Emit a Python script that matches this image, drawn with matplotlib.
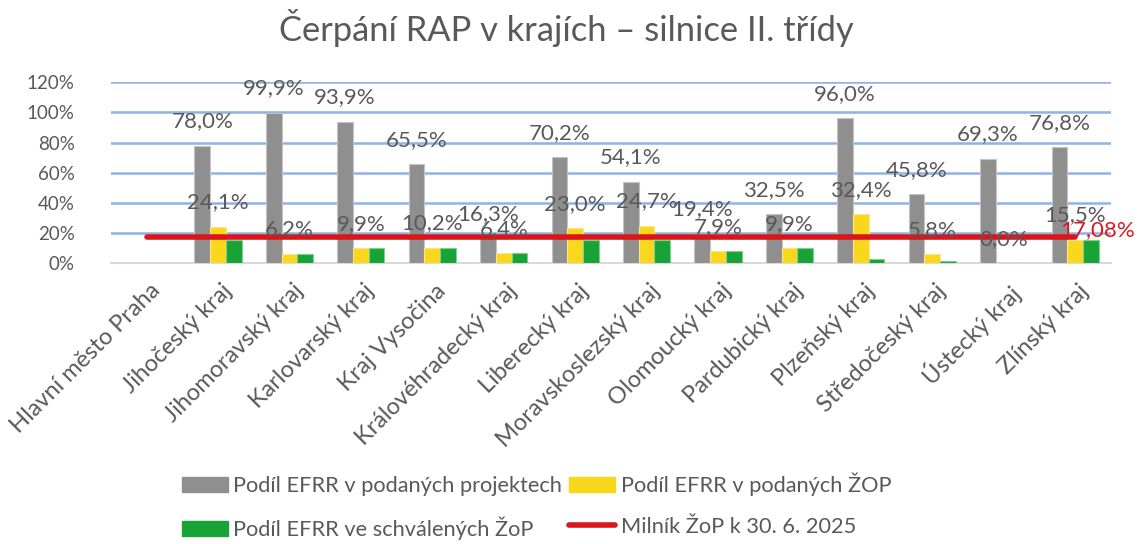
import numpy as np
import matplotlib
matplotlib.use("Agg")
import matplotlib.pyplot as plt
from matplotlib.patches import Patch
from matplotlib.lines import Line2D
import matplotlib.transforms as mtrans

plt.rcParams['font.family'] = ['Lato', 'DejaVu Sans']

categories = ["Hlavní město Praha", "Jihočeský kraj", "Jihomoravský kraj", "Karlovarský kraj",
              "Kraj Vysočina", "Královéhradecký kraj", "Liberecký kraj", "Moravskoslezský kraj",
              "Olomoucký kraj", "Pardubický kraj", "Plzeňský kraj", "Středočeský kraj",
              "Ústecký kraj", "Zlínský kraj"]
projekty = [np.nan, 78.0, 99.9, 93.9, 65.5, 16.3, 70.2, 54.1, 19.4, 32.5, 96.0, 45.8, 69.3, 76.8]
podane_zop = [np.nan, 24.1, 6.2, 9.9, 10.2, 6.4, 23.0, 24.7, 7.9, 9.9, 32.4, 5.8, 0.0, 15.5]
schvalene_zop = [np.nan, 15.4, 6.2, 9.9, 10.2, 6.4, 15.5, 15.6, 7.9, 9.9, 2.9, 1.4, 0.0, 15.5]
milnik = [17.08] * 14
yticks = [0, 20, 40, 60, 80, 100, 120]

series_names = ["Podíl EFRR v podaných projektech", "Podíl EFRR v podaných ŽOP",
                "Podíl EFRR ve schválených ŽoP", "Milník ŽoP k 30. 6. 2025"]
title = "Čerpání RAP v krajích – silnice II. třídy"

TXT = '#595959'
C_GRAY = '#8f8f8f'
C_YEL = '#f9d71c'
C_GRN = '#17a336'
C_RED = '#d9161c'

fig = plt.figure(figsize=(11.39, 5.44), dpi=100)
ax = fig.add_axes([0.0973, 0.5165, 0.878, 0.3322])

x = np.arange(len(categories))
w = 0.22
ax.bar(x - w, projekty, w, color=C_GRAY, edgecolor='#c4c4c4', linewidth=0.8, zorder=2)
ax.bar(x, podane_zop, w, color=C_YEL, edgecolor='#fbe58a', linewidth=0.8, zorder=2)
ax.bar(x + w, schvalene_zop, w, color=C_GRN, edgecolor='#7fcf93', linewidth=0.8, zorder=2)
ax.plot(x, milnik, color=C_RED, lw=4, solid_capstyle='round', zorder=3)

ax.set_xlim(-0.5, len(categories) - 0.5)
ax.set_ylim(0, 120)
ax.set_yticks(yticks)
ax.set_yticklabels([f"{t}%" for t in yticks])
ax.yaxis.grid(True, color='#8db4e2', lw=1.8, zorder=0)
ax.set_axisbelow(True)
for s in ['top', 'right', 'left']:
    ax.spines[s].set_visible(False)
ax.spines['bottom'].set_color('#d9d9d9')
ax.spines['bottom'].set_linewidth(1.5)
ax.spines['bottom'].set_zorder(1)
ax.tick_params(axis='y', length=0, pad=26, labelsize=13.5, labelcolor=TXT)
ax.set_xticks(x)
ax.set_xticklabels([])
ax.tick_params(axis='x', length=0)

# rotated category labels
off = mtrans.ScaledTranslation(3 / 100, -17 / 100, fig.dpi_scale_trans)
tr = ax.get_xaxis_transform() + off
for xi, c in zip(x, categories):
    ax.text(xi, 0, c, transform=tr, rotation=45, rotation_mode='anchor',
            ha='right', va='top', fontsize=17, color=TXT)

def fmt(v):
    return f"{v:.1f}%".replace('.', ',')

LBL = 16
for xi, v in zip(x, projekty):
    if not np.isnan(v):
        ax.annotate(fmt(v), (xi - w, v), xytext=(0, 17.5), textcoords='offset points',
                    ha='center', va='center', fontsize=LBL, color=TXT, zorder=5)
for xi, v in zip(x, podane_zop):
    if not np.isnan(v):
        ax.annotate(fmt(v), (xi, v), xytext=(0, 17.5), textcoords='offset points',
                    ha='center', va='center', fontsize=LBL, color=TXT, zorder=5)
ax.annotate(f"{milnik[-1]:.2f}%".replace('.', ','), (x[-1], milnik[-1]), xytext=(16, 5),
            textcoords='offset points', ha='center', va='center', fontsize=LBL,
            color='#e0161e', zorder=5, annotation_clip=False)

fig.suptitle(title, x=0.497, y=0.949, va='center', fontsize=24.8, color=TXT)

h_gray = Patch(facecolor=C_GRAY, edgecolor=C_GRAY)
h_yel = Patch(facecolor=C_YEL, edgecolor=C_YEL)
h_grn = Patch(facecolor=C_GRN, edgecolor=C_GRN)
h_red = Line2D([0], [0], color=C_RED, lw=4, solid_capstyle='round')
# column-major fill: order so rows read gray, yellow / green, red
fig.legend([h_gray, h_grn, h_yel, h_red],
           [series_names[0], series_names[2], series_names[1], series_names[3]],
           ncol=2, loc='center', bbox_to_anchor=(0.471, 0.069),
           frameon=False, fontsize=15.7, labelcolor=TXT, handlelength=2.1, handleheight=0.7,
           handletextpad=0.25, columnspacing=0.35, labelspacing=0.95)

fig.savefig('out.png', dpi=100)
